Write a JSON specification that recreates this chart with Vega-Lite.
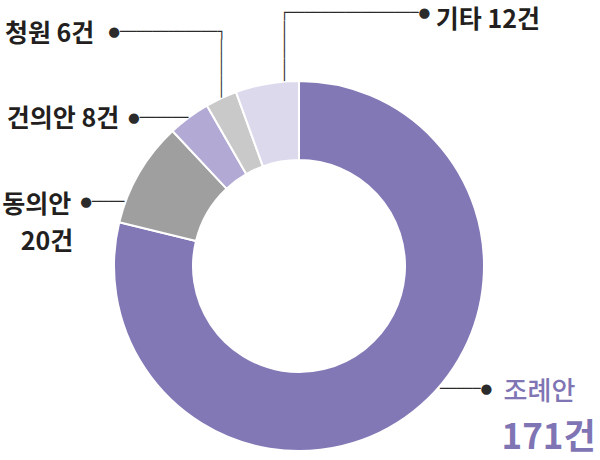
{
  "$schema": "https://vega.github.io/schema/vega-lite/v6.json",
  "width": 598,
  "height": 388,
  "autosize": {"type": "none"},
  "padding": {"left": 0, "top": 72, "right": 2, "bottom": 0},
  "background": "white",
  "config": {"view": {"stroke": null}},
  "data": {
    "values": [
      {"category": "조례안", "value": 171, "rank": 1, "count": "171건", "label": "조례안 171건"},
      {"category": "동의안", "value": 20, "rank": 2, "count": "20건", "label": "동의안 20건"},
      {"category": "건의안", "value": 8, "rank": 3, "count": "8건", "label": "건의안 8건"},
      {"category": "청원", "value": 6, "rank": 4, "count": "6건", "label": "청원 6건"},
      {"category": "기타", "value": 12, "rank": 5, "count": "12건", "label": "기타 12건"}
    ]
  },
  "encoding": {
    "theta": {"field": "value", "type": "quantitative", "stack": true},
    "order": {"field": "rank", "type": "quantitative"}
  },
  "layer": [
    {
      "mark": {"type": "arc", "innerRadius": 106, "outerRadius": 185, "stroke": "white", "strokeWidth": 2},
      "encoding": {
        "color": {
          "field": "category", "type": "nominal", "legend": null,
          "scale": {"domain": ["조례안", "동의안", "건의안", "청원", "기타"], "range": ["#8378b6", "#9f9f9f", "#b2aad4", "#c9c9c9", "#dcd9ed"]}
        }
      }
    },
    {
      "mark": {"type": "text", "radius": 185, "align": "right", "baseline": "alphabetic", "dx": 4.46, "dy": -62.53, "font": "DejaVu Sans", "fontSize": 13.5, "fill": "#2b2b2b"},
      "encoding": {"detail": {"field": "category"}, "text": {"condition": {"test": "datum.category === '청원'", "value": "●────────────┐"}, "value": ""}}
    },
    {
      "mark": {"type": "text", "radius": 185, "align": "right", "baseline": "alphabetic", "angle": 90, "dx": -0.7, "dy": 3.81, "font": "DejaVu Sans Mono", "fontSize": 12.1, "fill": "#2b2b2b"},
      "encoding": {"detail": {"field": "category"}, "text": {"condition": {"test": "datum.category === '청원'", "value": "────────"}, "value": ""}}
    },
    {
      "mark": {"type": "text", "radius": 185, "align": "left", "baseline": "alphabetic", "dx": 13.34, "dy": -66.83, "font": "DejaVu Sans", "fontSize": 13.5, "fill": "#2b2b2b"},
      "encoding": {"detail": {"field": "category"}, "text": {"condition": {"test": "datum.category === '기타'", "value": "┌────────────────●"}, "value": ""}}
    },
    {
      "mark": {"type": "text", "radius": 185, "align": "right", "baseline": "alphabetic", "angle": 90, "dx": -2.8, "dy": -13.05, "font": "DejaVu Sans Mono", "fontSize": 12.5, "fill": "#2b2b2b"},
      "encoding": {"detail": {"field": "category"}, "text": {"condition": {"test": "datum.category === '기타'", "value": "────────"}, "value": ""}}
    },
    {
      "mark": {"type": "text", "radius": 185, "align": "right", "baseline": "alphabetic", "dx": -0.5, "dy": 4.37, "font": "DejaVu Sans", "fontSize": 13.5, "fill": "#2b2b2b"},
      "encoding": {"detail": {"field": "category"}, "text": {"condition": {"test": "datum.category === '건의안'", "value": "●──────"}, "value": ""}}
    },
    {
      "mark": {"type": "text", "radius": 185, "align": "right", "baseline": "alphabetic", "dx": -14.8, "dy": 33.67, "font": "DejaVu Sans", "fontSize": 13.5, "fill": "#2b2b2b"},
      "encoding": {"detail": {"field": "category"}, "text": {"condition": {"test": "datum.category === '동의안'", "value": "●────"}, "value": ""}}
    },
    {
      "mark": {"type": "text", "radius": 185, "align": "left", "baseline": "alphabetic", "dx": 26.6, "dy": -18.73, "font": "DejaVu Sans", "fontSize": 13.5, "fill": "#2b2b2b"},
      "encoding": {"detail": {"field": "category"}, "text": {"condition": {"test": "datum.category === '조례안'", "value": "─────●"}, "value": ""}}
    },
    {
      "mark": {"type": "text", "radius": 185, "align": "right", "baseline": "alphabetic", "dx": -126.8, "dy": -56.2, "font": "Noto Sans CJK KR", "fontSize": 25, "fontWeight": "bold", "fill": "#231f20"},
      "encoding": {"detail": {"field": "category"}, "text": {"condition": {"test": "datum.category === '청원'", "field": "label"}, "value": ""}}
    },
    {
      "mark": {"type": "text", "radius": 185, "align": "right", "baseline": "alphabetic", "dx": -69.7, "dy": 10.0, "font": "Noto Sans CJK KR", "fontSize": 25, "fontWeight": "bold", "fill": "#231f20"},
      "encoding": {"detail": {"field": "category"}, "text": {"condition": {"test": "datum.category === '건의안'", "field": "label"}, "value": ""}}
    },
    {
      "mark": {"type": "text", "radius": 185, "align": "right", "baseline": "alphabetic", "dx": -68, "dy": 40.3, "font": "Noto Sans CJK KR", "fontSize": 25, "fontWeight": "bold", "fill": "#231f20"},
      "encoding": {"detail": {"field": "category"}, "text": {"condition": {"test": "datum.category === '동의안'", "field": "category"}, "value": ""}}
    },
    {
      "mark": {"type": "text", "radius": 185, "align": "right", "baseline": "alphabetic", "dx": -66, "dy": 76.8, "font": "Noto Sans CJK KR", "fontSize": 25, "fontWeight": "bold", "fill": "#231f20"},
      "encoding": {"detail": {"field": "category"}, "text": {"condition": {"test": "datum.category === '동의안'", "field": "count"}, "value": ""}}
    },
    {
      "mark": {"type": "text", "radius": 185, "align": "left", "baseline": "alphabetic", "dx": 168.8, "dy": -55.8, "font": "Noto Sans CJK KR", "fontSize": 25, "fontWeight": "bold", "fill": "#231f20"},
      "encoding": {"detail": {"field": "category"}, "text": {"condition": {"test": "datum.category === '기타'", "field": "label"}, "value": ""}}
    },
    {
      "mark": {"type": "text", "radius": 185, "align": "left", "baseline": "alphabetic", "dx": 90.3, "dy": -11.4, "font": "Noto Sans CJK KR", "fontSize": 26, "fontWeight": 500, "fill": "#7f74b4"},
      "encoding": {"detail": {"field": "category"}, "text": {"condition": {"test": "datum.category === '조례안'", "field": "category"}, "value": ""}}
    },
    {
      "mark": {"type": "text", "radius": 185, "align": "left", "baseline": "alphabetic", "dx": 88.2, "dy": 37.6, "font": "Noto Sans CJK KR", "fontSize": 35, "fontWeight": "bold", "fill": "#7f74b4"},
      "encoding": {"detail": {"field": "category"}, "text": {"condition": {"test": "datum.category === '조례안'", "field": "count"}, "value": ""}}
    }
  ]
}
